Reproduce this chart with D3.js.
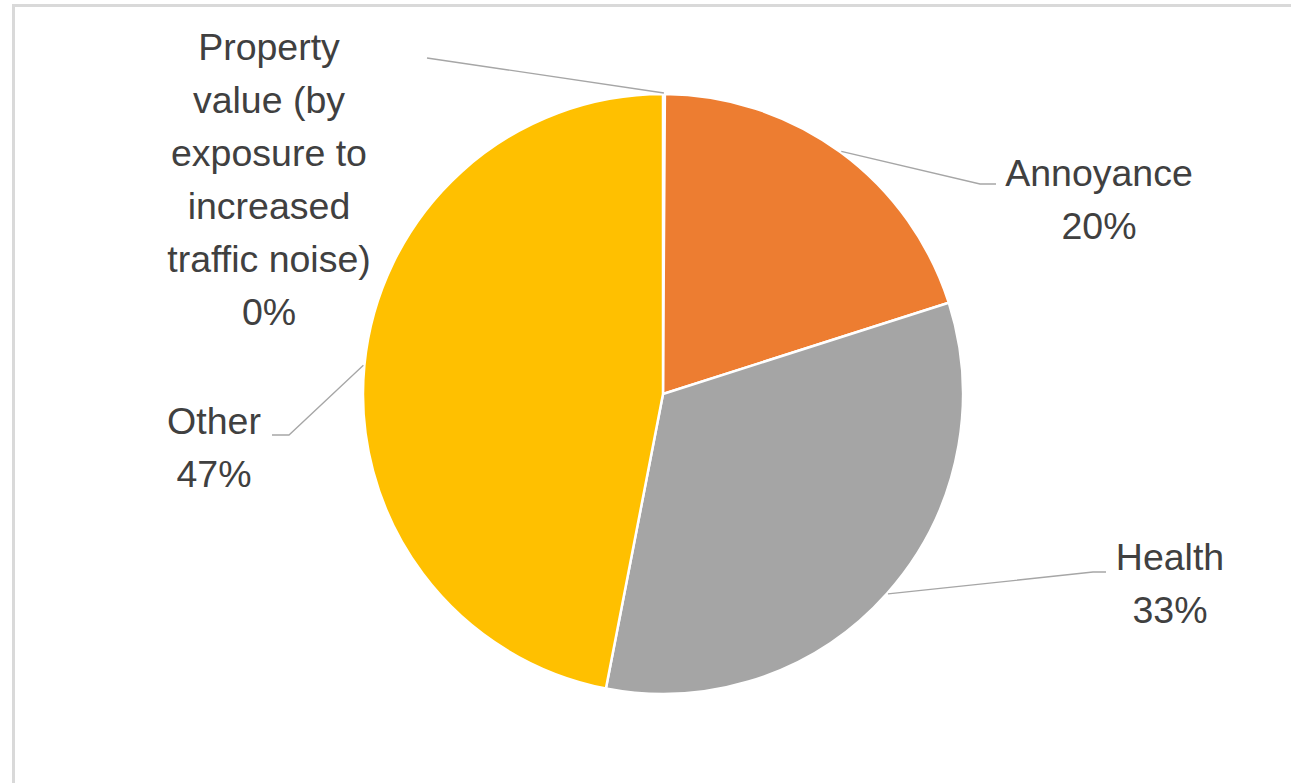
<!DOCTYPE html>
<html>
<head>
<meta charset="utf-8">
<script src="https://cdn.jsdelivr.net/npm/d3@7"></script>
<style>
  body { margin: 0; background: #fff; }
  svg { display: block; }
</style>
</head>
<body>
<div id="chart"></div>
<script>
// data
var categories = ["Property value (by exposure to increased traffic noise)", "Annoyance", "Health", "Other"];
var values = [0.1, 20, 33, 47];
var pctLabels = ["0%", "20%", "33%", "47%"];
var colors = ["#5B9BD5", "#ED7D31", "#A5A5A5", "#FFC000"];

// label text lines (as wrapped in the original)
var nameLines = [
    ["Property", "value (by", "exposure to", "increased", "traffic noise)"],
    ["Annoyance"],
    ["Health"],
    ["Other"]
];

var W = 1291, H = 783;
var cx = 663, cy = 394, R = 300;

var svg = d3.select("#chart")
    .append("svg")
    .attr("width", W)
    .attr("height", H);

// chart frame
svg.append("rect")
    .attr("x", 13.5).attr("y", 5.5)
    .attr("width", W + 10).attr("height", H + 10)
    .attr("fill", "#fff")
    .attr("stroke", "#d9d9d9")
    .attr("stroke-width", 3);

var g = svg.append("g").attr("transform", "translate(" + cx + "," + cy + ")");

var pie = d3.pie().sort(null).value(function(d) { return d; });
var arcs = pie(values);

var arc = d3.arc().innerRadius(0).outerRadius(R);
var edge = d3.arc().innerRadius(R + 1).outerRadius(R + 1);

g.selectAll("path.slice")
    .data(arcs)
    .enter()
    .append("path")
    .attr("class", "slice")
    .attr("d", arc)
    .attr("fill", function(d, i) { return colors[i]; })
    .attr("stroke", "#fff")
    .attr("stroke-width", 2.5)
    .attr("stroke-linejoin", "round");

// label layout: text centre x, first baseline y, elbow point (relative to page)
var labelPos = [
    { x: 269, y: 60, elbow: null, end: [427, 58] },
    { x: 1099, y: 186, elbow: [980, 184], end: [996, 184] },
    { x: 1170, y: 570, elbow: [1093, 572], end: [1106, 572] },
    { x: 214, y: 434, elbow: [289, 435], end: [272, 435] }
];
var lineH = 53;

arcs.forEach(function(d, i) {
    var c = edge.centroid(d);
    var p0 = [cx + c[0], cy + c[1]];
    var lp = labelPos[i];
    var pts = [p0];
    if (lp.elbow) pts.push(lp.elbow);
    pts.push(lp.end);
    svg.append("path")
        .attr("d", d3.line()(pts))
        .attr("fill", "none")
        .attr("stroke", "#a6a6a6")
        .attr("stroke-width", 1.3);

    var lines = nameLines[i].concat([pctLabels[i]]);
    var t = svg.append("text")
        .attr("x", lp.x)
        .attr("y", lp.y)
        .attr("text-anchor", "middle")
        .attr("font-family", "Liberation Sans, Arial, sans-serif")
        .attr("font-size", 37.5)
        .attr("fill", "#404040");
    lines.forEach(function(s, k) {
        t.append("tspan")
            .attr("x", lp.x)
            .attr("dy", k === 0 ? 0 : lineH)
            .text(s);
    });
});
</script>
</body>
</html>
